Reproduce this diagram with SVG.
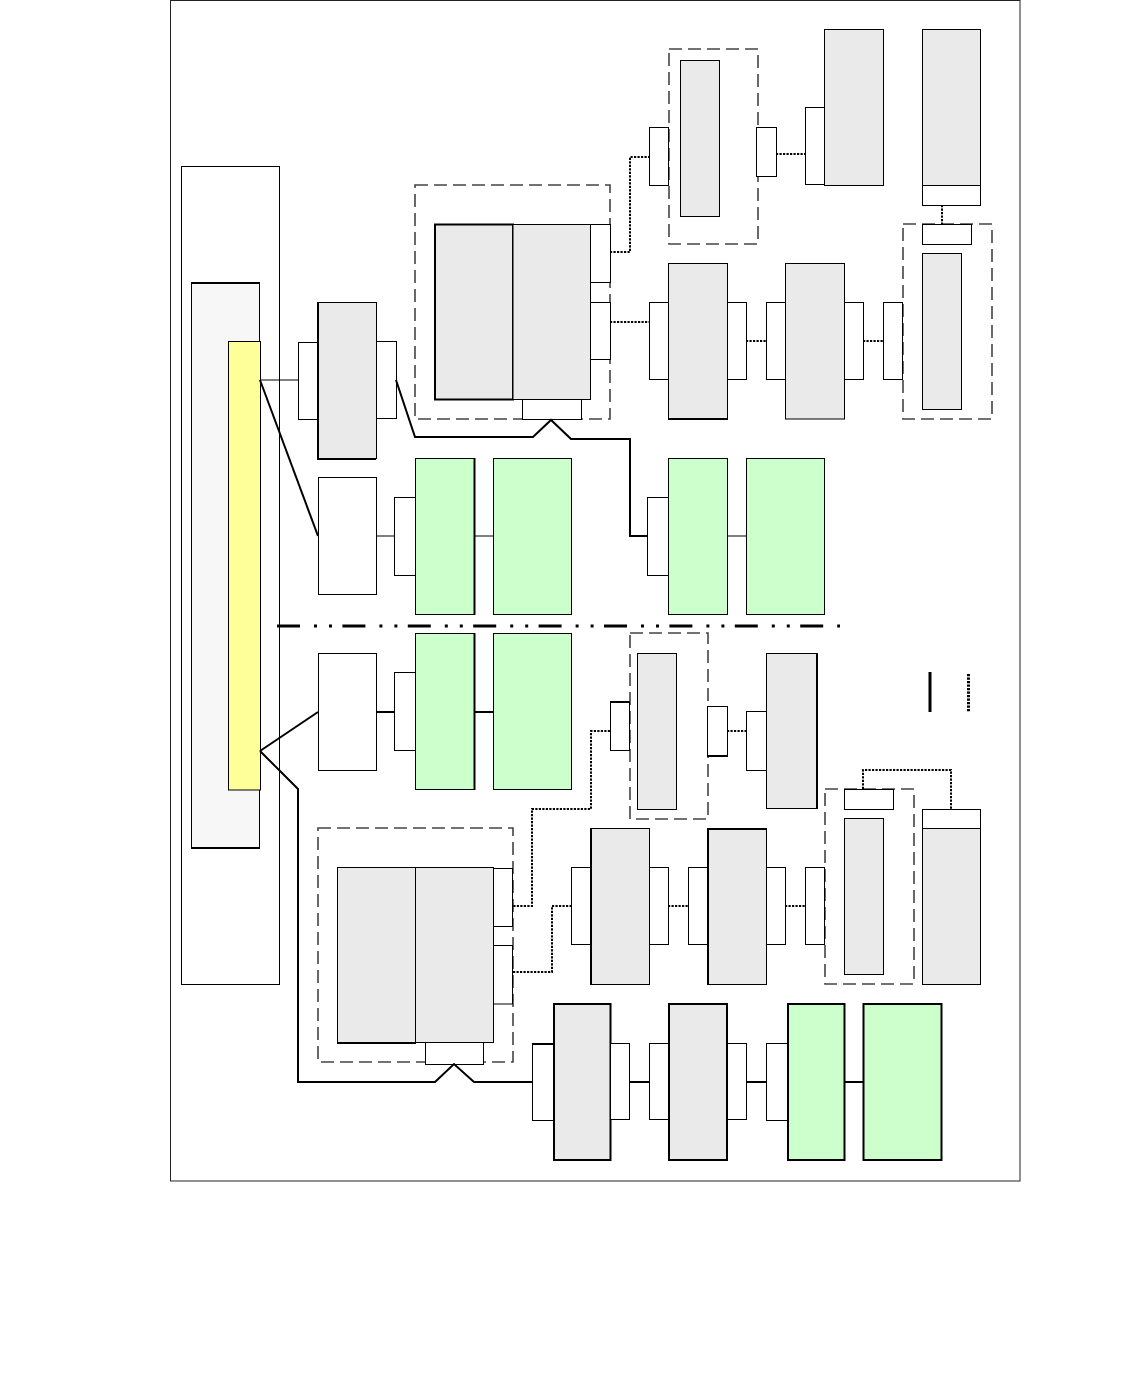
<svg xmlns="http://www.w3.org/2000/svg" width="1134" height="1392" viewBox="0 0 1134 1392">
<style>
.w{fill:#fff;stroke:#000;stroke-width:1}
.g{fill:#eaeaea;stroke:#000;stroke-width:1}
.gt{fill:#eaeaea;stroke:#000;stroke-width:2}
.gr{fill:#ccffcc;stroke:#000;stroke-width:1}
.grt{fill:#ccffcc;stroke:#000;stroke-width:2}
.dash{fill:none;stroke:#444;stroke-width:1.6;stroke-dasharray:13 6}
.dot{fill:none;stroke:#000;stroke-width:2;stroke-dasharray:2.2 1.3}
.ln{fill:none;stroke:#000;stroke-width:1}
.lb{fill:none;stroke:#000;stroke-width:2}
</style>
<rect x="0" y="0" width="1134" height="1392" fill="#fff"/>
<rect id="frame" x="170.5" y="0.5" width="849.5" height="1180.5" fill="none" stroke="#222" stroke-width="1"/>

<g id="zones">
<rect x="415" y="185" width="195" height="234" class="dash"/>
<rect x="669" y="49" width="89" height="195" class="dash"/>
<rect x="903" y="224" width="89" height="195" class="dash"/>
<rect x="630" y="633" width="78" height="186" class="dash"/>
<rect x="318" y="828" width="195" height="234" class="dash"/>
<rect x="825" y="789" width="89" height="195" class="dash"/>
</g>

<g id="left-panel">
<rect x="181.5" y="166.5" width="98" height="818" class="w"/>
</g>
<g id="left-inner">
<rect x="191.5" y="283" width="68" height="565" fill="#f7f7f7" stroke="#000" stroke-width="1"/>
<path d="M191,283 H260 M191,848 H260" stroke="#000" stroke-width="2"/>
</g>
<g id="bus">
<rect x="228.5" y="341.5" width="32" height="448.5" fill="#ffff99" stroke="#000" stroke-width="1"/>
</g>

<g id="n-r1a">
<rect x="298.5" y="342.5" width="20" height="77" class="w"/>
<rect x="318" y="302.5" width="58.5" height="156" class="g"/>
<path d="M318,302 V459 H376" stroke="#000" stroke-width="2" fill="none"/>
<rect x="376.5" y="341.5" width="20" height="77" class="w"/>
</g>

<g id="n-dual1">
<rect x="435" y="224.5" width="78" height="175" class="gt"/>
<rect x="513" y="224.5" width="77.5" height="175" class="g"/>
<rect x="590.5" y="224.5" width="20" height="58" class="w"/>
<rect x="590.5" y="302.5" width="20" height="57" class="w"/>
<path d="M590.5,282.5 V302 M590.5,359.5 V399" class="ln"/>
<rect x="522.5" y="399.5" width="59" height="20" class="w"/>
</g>

<g id="n-t1">
<rect x="649.5" y="127.5" width="19" height="58" class="w"/>
<rect x="680.5" y="60.5" width="39" height="156" class="g"/>
<rect x="756.5" y="127.5" width="20" height="49" class="w"/>
</g>
<g id="n-t2">
<rect x="805.5" y="107.5" width="19" height="77" class="w"/>
<rect x="824.5" y="29.5" width="59" height="156" class="g"/>
</g>
<g id="n-t3">
<rect x="922.5" y="29.5" width="58" height="176" class="g"/>
<rect x="922.5" y="185.5" width="58" height="20" class="w"/>
</g>
<g id="n-t4">
<rect x="922.5" y="224.5" width="49" height="20" class="w"/>
<rect x="922.5" y="253.5" width="39" height="156" class="g"/>
</g>

<g id="n-r2a">
<rect x="649.5" y="302.5" width="19" height="77" class="w"/>
<rect x="668.5" y="263.5" width="59" height="155.5" class="g"/>
<path d="M668,419 H728" stroke="#000" stroke-width="2"/>
<rect x="727.5" y="302.5" width="19" height="77" class="w"/>
</g>
<g id="n-r2b">
<rect x="766.5" y="302.5" width="19" height="77" class="w"/>
<rect x="785.5" y="263.5" width="59" height="155.5" class="g"/>
<rect x="844.5" y="302.5" width="19" height="77" class="w"/>
</g>
<g id="n-r2c">
<rect x="883.5" y="302.5" width="19" height="77" class="w"/>
</g>

<g id="n-r3a">
<rect x="318.5" y="477.5" width="58" height="117" class="w"/>
</g>
<g id="n-r3b">
<rect x="394.5" y="497.5" width="21" height="78" class="w"/>
<rect x="415.5" y="458.5" width="59" height="156" class="gr"/>
<path d="M474.5,458 V615" stroke="#000" stroke-width="2"/>
<rect x="493.5" y="458.5" width="78" height="156" class="gr"/>
</g>
<g id="n-r3c">
<rect x="647.5" y="497.5" width="21" height="78" class="w"/>
<rect x="668.5" y="458.5" width="59" height="156" class="gr"/>
<rect x="746.5" y="458.5" width="78" height="156" class="gr"/>
</g>

<g id="n-r4a">
<rect x="318.5" y="653.5" width="58" height="117" class="w"/>
</g>
<g id="n-r4b">
<rect x="394.5" y="672.5" width="21" height="78" class="w"/>
<rect x="415.5" y="633.5" width="59" height="156" class="gr"/>
<path d="M474.5,633 V790" stroke="#000" stroke-width="2"/>
<rect x="493.5" y="633.5" width="78" height="156" class="gr"/>
</g>
<g id="n-r4c">
<rect x="610.5" y="702" width="19" height="48.5" class="w"/>
<path d="M610,702 H630" stroke="#000" stroke-width="2"/>
<rect x="637.5" y="653.5" width="39" height="156" class="g"/>
<rect x="707.5" y="706.5" width="20" height="49" class="w"/>
<path d="M707,756 H728" stroke="#000" stroke-width="2"/>
</g>
<g id="n-r4d">
<rect x="746.5" y="711.5" width="20" height="59" class="w"/>
<rect x="766.5" y="653.5" width="50" height="155" class="g"/>
<path d="M817,653 V809" stroke="#000" stroke-width="2"/>
</g>

<g id="n-dual2">
<rect x="337.5" y="867.5" width="78" height="175.5" class="g"/>
<path d="M337,1043 H416" stroke="#000" stroke-width="2"/>
<rect x="415.5" y="867.5" width="78" height="175" class="g"/>
<rect x="493.5" y="868.5" width="19" height="58" class="w"/>
<rect x="493.5" y="945.5" width="19" height="58.5" class="w"/>
<rect x="425.5" y="1042.5" width="58" height="22" class="w"/>
</g>

<g id="n-r5a">
<rect x="571.5" y="867.5" width="19" height="77" class="w"/>
<rect x="590.5" y="828.5" width="59" height="156" class="g"/>
<path d="M591,828 V985" stroke="#000" stroke-width="2"/>
<rect x="649.5" y="867.5" width="19" height="77" class="w"/>
</g>
<g id="n-r5b">
<rect x="688.5" y="867.5" width="19" height="77" class="w"/>
<rect x="708" y="829" width="58.5" height="155.5" class="g"/>
<path d="M708,985 V829 H767" stroke="#000" stroke-width="2" fill="none"/>
<rect x="766.5" y="867.5" width="19" height="77" class="w"/>
</g>
<g id="n-r5c">
<rect x="805.5" y="867.5" width="19" height="77" class="w"/>
</g>
<g id="n-r5d">
<rect x="844.5" y="789.5" width="49" height="20" class="w"/>
<rect x="844.5" y="818.5" width="39" height="156" class="g"/>
</g>
<g id="n-r5e">
<rect x="922.5" y="828.5" width="58" height="156" class="g"/>
<rect x="922.5" y="809.5" width="58" height="19" class="w"/>
</g>

<g id="n-r6a">
<rect x="532.5" y="1043.5" width="21" height="77" class="w"/>
<path d="M532,1044 H554" stroke="#000" stroke-width="2"/>
<rect x="554" y="1004" width="56.5" height="156" class="gt"/>
<rect x="610.5" y="1043.5" width="19" height="76" class="w"/>
</g>
<g id="n-r6b">
<rect x="649.5" y="1043.5" width="19" height="76" class="w"/>
<rect x="669" y="1004" width="58" height="156" class="gt"/>
<rect x="727.5" y="1043.5" width="19" height="76" class="w"/>
</g>
<g id="n-r6c">
<rect x="766.5" y="1043.5" width="21" height="77" class="w"/>
<rect x="788" y="1004" width="56.5" height="156" class="grt"/>
<rect x="863.5" y="1004" width="78" height="156" class="grt"/>
</g>

<g id="legend">
<path d="M930,672 V712" stroke="#000" stroke-width="3" fill="none"/>
<path d="M968.5,674 V712" stroke="#000" stroke-width="3" stroke-dasharray="2.2 1.3" fill="none"/>
</g>

<g id="connectors">
<path class="ln" d="M260,380 H298"/>
<path class="lb" d="M260,380 L318,536" stroke-width="1.5"/>
<path class="lb" d="M396,380 L415,437 H533 L551,420 L571,439 H630 V536 H648"/>
<path class="ln" d="M376,536 H394 M474,536 H493 M727,536 H746"/>
<path class="lb" d="M260,751 L318,712"/>
<path class="lb" d="M260,751 L298,789 V1082 H435 L454,1064 L474,1082 H532"/>
<path class="lb" d="M376,712 H394 M474,712 H493"/>
<path class="lb" d="M629,1082 H649 M746,1082 H766 M844,1082 H863"/>
<path class="dot" d="M610,252 H630 V157 H649"/>
<path class="dot" d="M610,322 H649"/>
<path class="dot" d="M776,154 H805"/>
<path class="dot" d="M942,205 V225"/>
<path class="dot" d="M746,341 H766 M863,341 H883"/>
<path class="dot" d="M727,731 H746"/>
<path class="dot" d="M610,731 H591 V809 H532 V906 H513"/>
<path class="dot" d="M513,972 H552 V906 H571"/>
<path class="dot" d="M668,906 H688 M785,906 H805"/>
<path class="dot" d="M863,789 V770 H951 V809"/>
<path d="M277,626 H840" fill="none" stroke="#000" stroke-width="3" stroke-dasharray="23 14 3 12 3 10.4"/>
</g>
</svg>
